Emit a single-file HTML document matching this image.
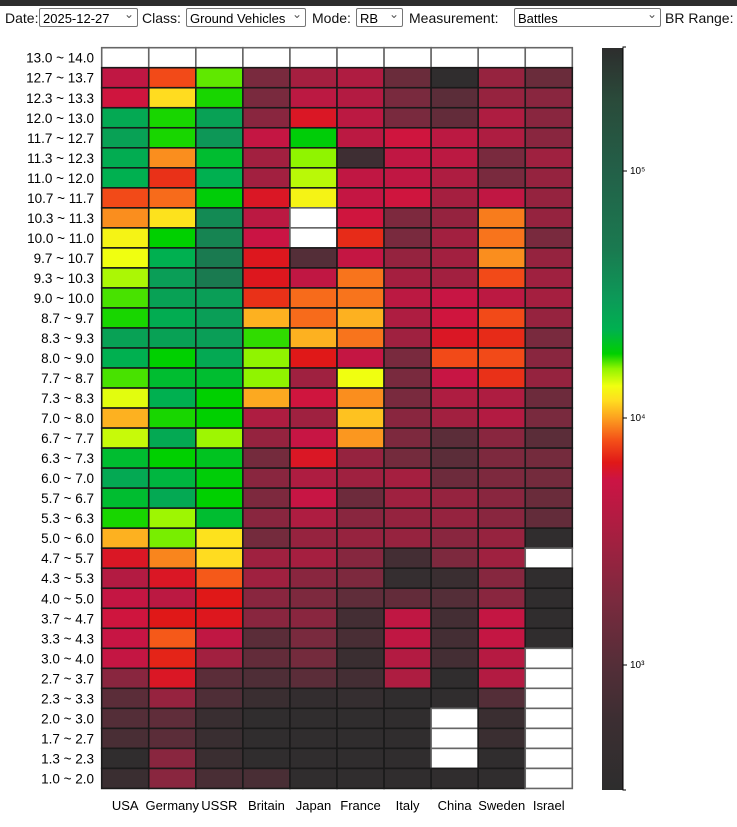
<!DOCTYPE html>
<html><head><meta charset="utf-8">
<style>
body{margin:0;width:737px;height:827px;background:#fff;font-family:"Liberation Sans",sans-serif;overflow:hidden;position:relative}
#topbar{position:absolute;left:0;top:0;width:737px;height:6px;background:#2d2d2d}
.lbl{position:absolute;top:9px;font-size:14px;color:#111;line-height:18px}
.sel{position:absolute;top:8px;height:19px;border:1px solid #767676;border-radius:2px;font-size:13px;line-height:19px;padding-left:3px;box-sizing:border-box;color:#000;background:#fff}
.sel::after{content:"⌄";position:absolute;right:3px;top:-4px;font-size:12px;color:#555}
</style></head><body>
<div id="topbar"></div>
<div class="lbl" style="left:5px">Date:</div>
<div class="sel" style="left:39px;width:99px">2025-12-27</div>
<div class="lbl" style="left:142px">Class:</div>
<div class="sel" style="left:186px;width:120px">Ground Vehicles</div>
<div class="lbl" style="left:312px">Mode:</div>
<div class="sel" style="left:356px;width:47px">RB</div>
<div class="lbl" style="left:409px">Measurement:</div>
<div class="sel" style="left:514px;width:147px">Battles</div>
<div class="lbl" style="left:665px">BR Range:</div>
<svg id="chart" width="737" height="827" style="position:absolute;left:0;top:0"></svg>
<script>
// BR brackets (top to bottom)
const brRanges=["13.0 ~ 14.0","12.7 ~ 13.7","12.3 ~ 13.3","12.0 ~ 13.0","11.7 ~ 12.7","11.3 ~ 12.3","11.0 ~ 12.0","10.7 ~ 11.7","10.3 ~ 11.3","10.0 ~ 11.0","9.7 ~ 10.7","9.3 ~ 10.3","9.0 ~ 10.0","8.7 ~ 9.7","8.3 ~ 9.3","8.0 ~ 9.0","7.7 ~ 8.7","7.3 ~ 8.3","7.0 ~ 8.0","6.7 ~ 7.7","6.3 ~ 7.3","6.0 ~ 7.0","5.7 ~ 6.7","5.3 ~ 6.3","5.0 ~ 6.0","4.7 ~ 5.7","4.3 ~ 5.3","4.0 ~ 5.0","3.7 ~ 4.7","3.3 ~ 4.3","3.0 ~ 4.0","2.7 ~ 3.7","2.3 ~ 3.3","2.0 ~ 3.0","1.7 ~ 2.7","1.3 ~ 2.3","1.0 ~ 2.0"];
const nations=["USA","Germany","USSR","Britain","Japan","France","Italy","China","Sweden","Israel"];
// log10(battles) per nation, per BR bracket (null = no data)
const usa=[null,3.68,3.76,4.4,4.44,4.38,4.36,3.9,3.98,4.11,4.13,4.18,4.23,4.25,4.44,4.36,4.23,4.14,4.02,4.16,4.32,4.4,4.32,4.25,4.02,3.8,3.6,3.7,3.76,3.72,3.7,3.35,3.05,3.0,2.9,2.55,2.75];
const germany=[null,3.9,4.07,4.25,4.25,3.98,3.86,3.94,4.08,4.26,4.36,4.46,4.44,4.38,4.44,4.26,4.32,4.36,4.25,4.4,4.26,4.34,4.4,4.19,4.21,3.97,3.8,3.65,3.82,3.92,3.84,3.8,3.43,3.08,3.05,3.35,3.35];
const ussr=[null,4.22,4.25,4.44,4.5,4.32,4.36,4.27,4.58,4.62,4.68,4.68,4.46,4.46,4.46,4.4,4.32,4.26,4.26,4.19,4.3,4.27,4.26,4.32,4.08,4.07,3.92,3.82,3.81,3.68,3.5,3.05,2.95,2.72,2.72,2.75,2.9];
const britain=[null,3.25,3.25,3.35,3.7,3.5,3.5,3.8,3.65,3.74,3.81,3.81,3.86,4.02,4.24,4.2,4.2,4.01,3.57,3.42,3.22,3.35,3.28,3.35,3.22,3.48,3.48,3.35,3.35,3.05,3.1,2.95,2.75,2.55,2.55,2.55,2.9];
const japan=[null,3.52,3.65,3.8,4.27,4.2,4.17,4.11,null,null,3.0,3.68,3.94,3.94,4.02,3.82,3.48,3.76,3.48,3.72,3.8,3.57,3.72,3.57,3.43,3.52,3.35,3.28,3.35,3.25,3.22,3.05,2.6,2.55,2.55,2.55,2.55];
const france=[null,3.58,3.6,3.65,3.65,2.8,3.68,3.7,3.76,3.85,3.7,3.95,3.95,4.02,3.95,3.7,4.13,3.98,4.04,3.99,3.42,3.48,3.17,3.35,3.43,3.33,3.28,3.08,2.85,2.9,2.75,2.85,2.65,2.55,2.55,2.55,2.55];
const italy=[null,3.15,3.25,3.25,3.76,3.68,3.68,3.76,3.28,3.25,3.42,3.52,3.65,3.57,3.48,3.25,3.25,3.25,3.35,3.28,3.22,3.52,3.48,3.42,3.43,2.85,2.65,3.1,3.68,3.68,3.6,3.57,2.55,2.55,2.55,2.55,2.55];
const china=[null,2.55,3.05,3.1,3.65,3.65,3.57,3.52,3.42,3.5,3.5,3.5,3.72,3.76,3.8,3.9,3.72,3.57,3.5,3.05,3.05,3.17,3.42,3.42,3.35,3.28,2.75,3.0,2.85,2.85,2.85,2.55,2.55,null,null,null,2.55];
const sweden=[null,3.43,3.43,3.57,3.57,3.25,3.25,3.68,3.96,3.95,3.98,3.9,3.65,3.9,3.85,3.9,3.86,3.57,3.6,3.35,3.28,3.28,3.35,3.35,3.43,3.48,3.33,3.35,3.7,3.7,3.62,3.6,3.0,2.75,2.75,2.55,2.55];
const israel=[null,3.15,3.35,3.35,3.35,3.48,3.42,3.42,3.42,3.25,3.42,3.48,3.52,3.43,3.25,3.35,3.42,3.17,3.25,3.05,3.22,3.22,3.15,3.1,2.55,null,2.55,2.55,2.55,2.55,null,null,null,null,null,null,null];
const series=[usa,germany,ussr,britain,japan,france,italy,china,sweden,israel];
const colorTicks=[3,4,5];
const tickLabels=["10³","10⁴","10⁵"];

const NS="http://www.w3.org/2000/svg";
const svg=document.getElementById('chart');
const gx0=101.7,cw=47.06,gy0=47.7,rh=20.02;
const xPos=i=>gx0+i*cw, yPos=j=>gy0+j*rh;
// colorbar log axis
const cbTop=48,cbBot=790,vMin=2.494,vMax=5.498;
const cbY=v=>418-(v-4)*247;
const stops=[[2.494,"#2d2d2d"],[2.78,"#3c2e32"],[3.0,"#542e38"],[3.26,"#7a2a3e"],[3.5,"#a22040"],[3.75,"#cc1444"],[3.82,"#e01818"],[3.91,"#f45018"],[4.0,"#fca020"],[4.07,"#ffdc20"],[4.13,"#f0ff10"],[4.2,"#90f400"],[4.26,"#00d000"],[4.36,"#00b050"],[4.48,"#0c9a58"],[4.68,"#1a7a50"],[5.0,"#236048"],[5.29,"#2a4a3a"],[5.498,"#2d2d2d"]];
function hx(c){return[1,3,5].map(i=>parseInt(c.substr(i,2),16));}
function color(v){
  if(v<=stops[0][0])return stops[0][1];
  for(let k=1;k<stops.length;k++){
    if(v<=stops[k][0]){const a=stops[k-1],b=stops[k];const t=(v-a[0])/(b[0]-a[0]);const ca=hx(a[1]),cb=hx(b[1]);
      return "rgb("+ca.map((x,i)=>Math.round(x+(cb[i]-x)*t)).join(",")+")";}
  }
  return stops[stops.length-1][1];
}
function mk(tag,attrs){const e=document.createElementNS(NS,tag);for(const k in attrs)e.setAttribute(k,attrs[k]);svg.appendChild(e);return e;}
// cells
series.forEach((arr,i)=>{
  arr.forEach((v,j)=>{
    const r=mk('rect',{x:xPos(i),y:yPos(j),width:cw,height:rh,fill:v==null?"#ffffff":color(v),stroke:v==null?"#666":"#1a1a1a","stroke-width":1.6});
    
    
  });
});
// row labels
brRanges.forEach((s,j)=>{
  const t=mk('text',{x:94,y:yPos(j)+rh/2+5,"text-anchor":"end","font-size":13.5,fill:"#000"});
  t.textContent=s;
  
  
});
// column labels
nations.forEach((s,i)=>{
  const t=mk('text',{x:xPos(i)+cw/2,y:810,"text-anchor":"middle","font-size":13,fill:"#000"});
  t.textContent=s;
  
  
});
// colorbar gradient
const defs=mk('defs',{});
const lg=document.createElementNS(NS,'linearGradient');
lg.setAttribute('id','cbg');lg.setAttribute('x1','0');lg.setAttribute('y1','1');lg.setAttribute('x2','0');lg.setAttribute('y2','0');
stops.forEach(s=>{const st=document.createElementNS(NS,'stop');st.setAttribute('offset',((s[0]-vMin)/(vMax-vMin)).toFixed(4));st.setAttribute('stop-color',s[1]);lg.appendChild(st);});
defs.appendChild(lg);
const cb=mk('rect',{x:602,y:cbTop,width:21,height:cbBot-cbTop,fill:"url(#cbg)"});


mk('path',{d:`M626,${cbTop-1}H623V${cbBot}H626`,stroke:"#000",fill:"none","stroke-width":1});
colorTicks.forEach((v,k)=>{
  mk('line',{x1:623,x2:627,y1:cbY(v),y2:cbY(v),stroke:"#000"});
  const t=mk('text',{x:630,y:cbY(v)+3,"font-size":10,fill:"#000"});
  t.textContent=tickLabels[k];
  
  
});
</script>
</body></html>
